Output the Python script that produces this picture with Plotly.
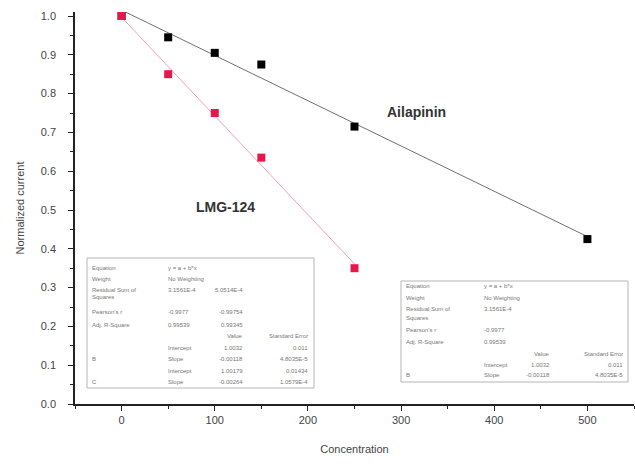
import numpy as np
import plotly.graph_objects as go

# ---- data ----
conc_ail = [0, 50, 100, 150, 250, 500]
curr_ail = [1.0, 0.945, 0.905, 0.875, 0.715, 0.425]
conc_lmg = [0, 50, 100, 150, 250]
curr_lmg = [1.0, 0.85, 0.75, 0.635, 0.35]

x_ticks = [0, 100, 200, 300, 400, 500]
y_ticks = [0.0, 0.1, 0.2, 0.3, 0.4, 0.5, 0.6, 0.7, 0.8, 0.9, 1.0]

left_rows = [
    ["Equation", "y = a + b*x", "", ""],
    ["Weight", "No Weighting", "", ""],
    ["Residual Sum of", "3.1561E-4", "5.0514E-4", ""],
    ["Squares", "", "", ""],
    ["Pearson's r", "-0.9977", "-0.99754", ""],
    ["Adj. R-Square", "0.99539", "0.99345", ""],
    ["", "", "Value", "Standard Error"],
    ["", "Intercept", "1.0032", "0.011"],
    ["B", "Slope", "-0.00118", "4.8035E-5"],
    ["", "Intercept", "1.00179", "0.01434"],
    ["C", "Slope", "-0.00264", "1.0579E-4"],
]
right_rows = [
    ["Equation", "y = a + b*x", "", ""],
    ["Weight", "No Weighting", "", ""],
    ["Residual Sum of", "3.1561E-4", "", ""],
    ["Squares", "", "", ""],
    ["Pearson's r", "-0.9977", "", ""],
    ["Adj. R-Square", "0.99539", "", ""],
    ["", "", "Value", "Standard Error"],
    ["", "Intercept", "1.0032", "0.011"],
    ["B", "Slope", "-0.00118", "4.8035E-5"],
]

# ---- figure geometry (pixels) ----
W, H = 635, 468
L, R, T, B = 75, 1, 12, 64
PW, PH = W - L - R, H - T - B

def px(x):
    return (x - L) / PW

def py(y):
    return (H - B - y) / PH

fig = go.Figure()

# linear fits from data
for xs, ys, col in [(conc_ail, curr_ail, "#707070"), (conc_lmg, curr_lmg, "#f2a0b4")]:
    b, a = np.polyfit(xs, ys, 1)
    xf = [min(xs), max(xs)]
    fig.add_trace(go.Scatter(x=xf, y=[a + b * v for v in xf], mode="lines",
                             line=dict(color=col, width=1), showlegend=False,
                             hoverinfo="skip"))

fig.add_trace(go.Scatter(x=conc_ail, y=curr_ail, mode="markers", name="Ailapinin",
                         marker=dict(symbol="square", size=8, color="black"),
                         showlegend=False))
fig.add_trace(go.Scatter(x=conc_lmg, y=curr_lmg, mode="markers", name="LMG-124",
                         marker=dict(symbol="square", size=8, color="#e8174a"),
                         showlegend=False))

annotations = [
    dict(x=317, y=0.752, xref="x", yref="y", text="<b>Ailapinin</b>", showarrow=False,
         font=dict(family="Liberation Sans, Arial", size=14, color="#333")),
    dict(x=111, y=0.508, xref="x", yref="y", text="<b>LMG-124</b>", showarrow=False,
         font=dict(family="Liberation Sans, Arial", size=14, color="#333")),
]

shapes = []

def add_table(rows, box, row_y, col_x):
    x0, y0, x1, y1 = box
    shapes.append(dict(type="rect", xref="paper", yref="paper",
                       x0=px(x0), x1=px(x1), y0=py(y1), y1=py(y0),
                       line=dict(color="#b5b5b5", width=1), fillcolor="white",
                       layer="above"))
    for r, yy in zip(rows, row_y):
        for j, txt in enumerate(r):
            if not txt:
                continue
            cx, anchor = col_x[j]
            annotations.append(dict(x=px(cx), y=py(yy), xref="paper", yref="paper",
                                    text=txt, showarrow=False, xanchor=anchor,
                                    yanchor="middle",
                                    font=dict(family="Liberation Sans, Arial", size=6,
                                              color="#777")))

add_table(left_rows, (87, 258, 314, 388),
          [268, 279, 290, 297, 312, 325, 336, 348, 359, 371, 382],
          [(90, "left"), (166, "left"), (245, "right"), (310, "right")])
add_table(right_rows, (401, 281, 628, 382),
          [286, 298, 309, 318, 330, 342, 354, 365, 375],
          [(404, "left"), (482, "left"), (552, "right"), (625, "right")])

axis_font = dict(family="Liberation Sans, Arial", size=11, color="#444")
fig.update_layout(
    width=W, height=H,
    margin=dict(l=L, r=R, t=T, b=B),
    paper_bgcolor="white", plot_bgcolor="white",
    annotations=annotations, shapes=shapes,
    xaxis=dict(range=[-50, 550], tickvals=x_ticks, ticks="outside", ticklen=5,
               tickwidth=1.2, tickcolor="#222", showline=True, linecolor="#222",
               linewidth=1.5, showgrid=False, zeroline=False, tickfont=axis_font,
               minor=dict(dtick=50, tick0=0, ticks="outside", ticklen=3,
                          tickcolor="#222", showgrid=False),
               title=dict(text="Concentration", font=axis_font, standoff=20)),
    yaxis=dict(range=[0, 1.0103], tickvals=y_ticks, ticktext=[f"{v:.1f}" for v in y_ticks],
               ticks="outside", ticklen=5, tickwidth=1.2, tickcolor="#222",
               showline=True, linecolor="#222", linewidth=1.5, showgrid=False,
               zeroline=False, tickfont=axis_font, ticklabelstandoff=10,
               minor=dict(dtick=0.05, tick0=0, ticks="outside", ticklen=3,
                          tickcolor="#222", showgrid=False),
               title=dict(text="Normalized current", font=axis_font, standoff=14)),
)

fig.write_html("out.html")
